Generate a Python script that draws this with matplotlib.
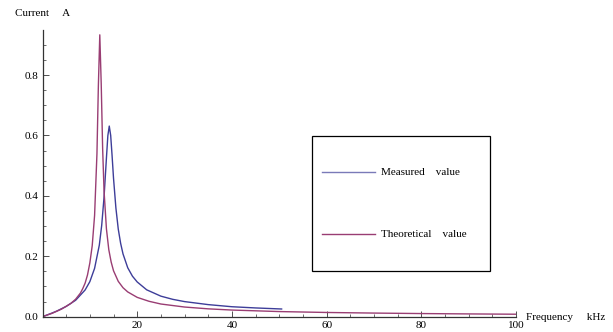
import matplotlib
matplotlib.use("Agg")
import matplotlib.pyplot as plt
from matplotlib.patches import Rectangle
from matplotlib.ticker import MultipleLocator

# values (frequency in kHz, current in A)
theory_f = [0, 2, 4, 6, 7, 8, 8.5, 9, 9.5, 10, 10.5, 11, 11.5, 11.8, 12.1, 12.4, 12.7, 13, 13.5,
            14, 14.5, 15, 16, 17, 18, 20, 22.5, 25, 30, 35, 40, 50, 60, 70, 80, 90, 100]
theory_i = [0.0, 0.011, 0.025, 0.044, 0.058, 0.078, 0.093, 0.111, 0.138, 0.178, 0.235, 0.335,
            0.54, 0.765, 0.933, 0.771, 0.557, 0.416, 0.291, 0.222, 0.181, 0.152, 0.117, 0.096,
            0.082, 0.064, 0.051, 0.042, 0.032, 0.026, 0.022, 0.017, 0.014, 0.012, 0.0104,
            0.0092, 0.0082]

measured_f = [0, 2, 3, 5, 7, 9, 10, 11, 12, 12.5, 13, 13.5, 13.8, 14.1, 14.4, 14.7, 15, 15.5,
              16, 16.5, 17, 18, 19, 20, 22, 25, 27.5, 30, 35, 40, 45, 50.5]
measured_i = [0.0, 0.012, 0.0185, 0.034, 0.0545, 0.0885, 0.116, 0.16, 0.237, 0.302, 0.396,
              0.525, 0.599, 0.631, 0.60, 0.532, 0.458, 0.36, 0.29, 0.243, 0.208, 0.162, 0.134,
              0.115, 0.089, 0.068, 0.0575, 0.05, 0.04, 0.033, 0.029, 0.0255]

blue = "#3d3d99"
red = "#993d73"

plt.rcParams['font.family'] = ['Liberation Serif', 'DejaVu Serif']
plt.rcParams['font.size'] = 8

fig = plt.figure(figsize=(6.13, 3.32), dpi=100)
ax = fig.add_axes([42.5 / 613, 15.3 / 332, 473.5 / 613, 286.7 / 332])

ax.plot(measured_f, measured_i, color=blue, lw=1.0, solid_joinstyle='round')
ax.plot(theory_f, theory_i, color=red, lw=1.0, solid_joinstyle='round')

ax.set_xlim(0, 100)
ax.set_ylim(0, 0.949)
for s in ['top', 'right']:
    ax.spines[s].set_visible(False)
for s in ['left', 'bottom']:
    ax.spines[s].set_color('#333333')
    ax.spines[s].set_linewidth(0.9)

ax.xaxis.set_major_locator(MultipleLocator(20))
ax.xaxis.set_minor_locator(MultipleLocator(5))
ax.yaxis.set_major_locator(MultipleLocator(0.2))
ax.yaxis.set_minor_locator(MultipleLocator(0.05))
ax.set_xticks([20, 40, 60, 80, 100])
ax.set_xticklabels(['20', '40', '60', '80', '100'])
ax.set_yticks([0, 0.2, 0.4, 0.6, 0.8])
ax.set_yticklabels(['0.0', '0.2', '0.4', '0.6', '0.8'])
ax.tick_params(which='major', direction='in', length=4, width=0.6, color='#333333', pad=3)
ax.tick_params(which='minor', direction='in', length=2.5, width=0.5, color='#333333')

fig.text(15 / 613, 1 - 14 / 332, "Current     A", ha='left', va='center')
fig.text(526 / 613, 1 - 318 / 332, "Frequency     kHz", ha='left', va='center')

# legend box drawn by hand, Mathematica style
ax.add_patch(Rectangle((0.569, 0.160), 0.377, 0.47, transform=ax.transAxes,
                       fill=False, ec='black', lw=0.9, clip_on=False))
ax.plot([0.590, 0.702], [0.504, 0.504], color='#7a7ab8', lw=1.0, transform=ax.transAxes)
ax.plot([0.590, 0.702], [0.287, 0.287], color=red, lw=1.0, transform=ax.transAxes)
ax.text(0.715, 0.504, "Measured    value", transform=ax.transAxes, va='center', ha='left')
ax.text(0.715, 0.287, "Theoretical    value", transform=ax.transAxes, va='center', ha='left')

fig.savefig("out.png", dpi=100)
